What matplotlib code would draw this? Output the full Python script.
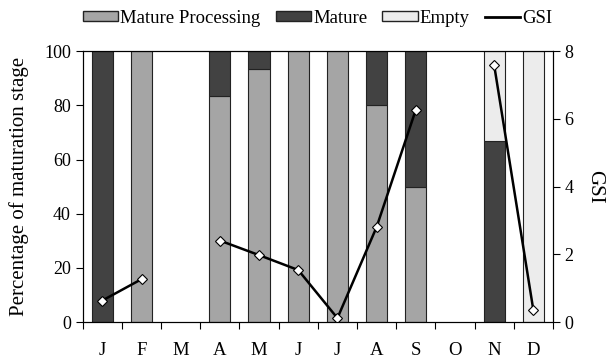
import numpy as np
import matplotlib.pyplot as plt
from matplotlib.lines import Line2D
from matplotlib.patches import Patch

plt.rcParams['font.family'] = ['Liberation Serif', 'DejaVu Serif']

months = ["J", "F", "M", "A", "M", "J", "J", "A", "S", "O", "N", "D"]
mature_processing = [0, 100, 0, 83.3, 93.3, 100, 100, 80, 50, 0, 0, 0]
mature = [100, 0, 0, 16.7, 6.7, 0, 0, 20, 50, 0, 66.7, 0]
empty = [0, 0, 0, 0, 0, 0, 0, 0, 0, 0, 33.3, 100]
gsi = [0.64, 1.27, np.nan, 2.41, 1.98, 1.54, 0.12, 2.81, 6.27, np.nan, 7.59, 0.36]

c_mp = "#a5a5a5"
c_mat = "#424242"
c_emp = "#ececec"

x = np.arange(len(months))
mp = np.array(mature_processing)
mt = np.array(mature)
em = np.array(empty)

fig = plt.figure(figsize=(6.13, 3.58), dpi=100)
ax = fig.add_axes([0.135, 0.10, 0.767, 0.757])

w = 0.54
kw = dict(width=w, edgecolor="#222222", linewidth=0.8)
for i in x:
    if mp[i] > 0:
        ax.bar(i, mp[i], color=c_mp, **kw)
    if mt[i] > 0:
        ax.bar(i, mt[i], bottom=mp[i], color=c_mat, **kw)
    if em[i] > 0:
        ax.bar(i, em[i], bottom=mp[i] + mt[i], color=c_emp, **kw)

ax.set_xlim(-0.5, len(months) - 0.5)
ax.set_ylim(0, 100)
ax.set_yticks(range(0, 101, 20))
ax.set_xticks(x)
ax.set_xticklabels(months, fontsize=13.5)
ax.set_xticks(np.arange(-0.5, len(months), 1), minor=True)
ax.tick_params(axis="x", which="major", length=0, pad=14)
ax.tick_params(axis="x", which="minor", length=5, direction="out", width=0.8)
ax.tick_params(axis="y", length=5, direction="out", width=0.8, labelsize=13)
ax.set_ylabel("Percentage of maturation stage", fontsize=15, labelpad=11)
for s in ax.spines.values():
    s.set_linewidth(0.8)

ax2 = ax.twinx()
ax2.plot(x, gsi, color="black", linewidth=1.8, marker="D", markersize=5.5,
         markerfacecolor="white", markeredgecolor="black", markeredgewidth=0.8)
ax2.set_ylim(0, 8)
ax2.set_yticks(range(0, 9, 2))
ax2.tick_params(axis="y", length=5, direction="out", width=0.8, labelsize=13)
ax2.set_ylabel("GSI", fontsize=15, rotation=270, labelpad=22)
for s in ax2.spines.values():
    s.set_linewidth(0.8)

handles = [
    Patch(facecolor=c_mp, edgecolor="#222222", label="Mature Processing"),
    Patch(facecolor=c_mat, edgecolor="#222222", label="Mature"),
    Patch(facecolor=c_emp, edgecolor="#222222", label="Empty"),
    Line2D([0], [0], color="black", linewidth=2, label="GSI"),
]
fig.legend(handles=handles, loc="upper center", bbox_to_anchor=(0.518, 1.02), ncol=4,
           frameon=False, fontsize=13.5, handlelength=1.9, handleheight=0.45,
           handletextpad=0.1, columnspacing=0.8)

fig.savefig("out.png", dpi=100)
